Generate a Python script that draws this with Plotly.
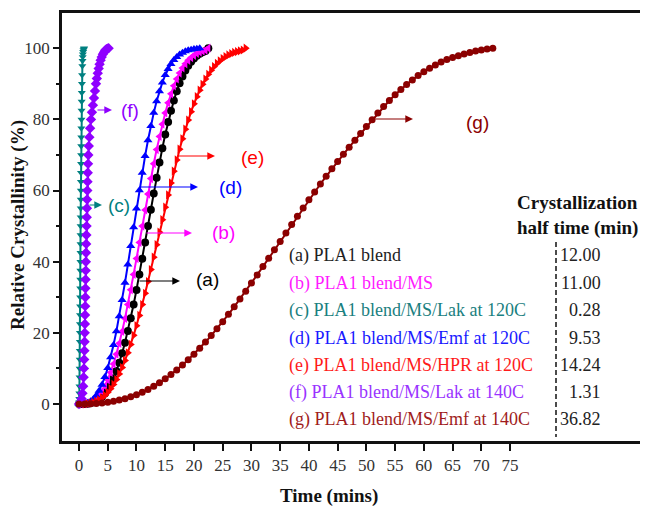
import plotly.graph_objects as go

# ---------------- data ----------------
time_a = [0, 0.5, 1, 1.5, 2, 2.5, 3, 3.5, 4, 4.5, 5, 5.5, 6, 6.5, 7, 7.5, 8, 8.5, 9, 9.5,
          10, 10.5, 11, 11.5, 12, 12.5, 13, 13.5, 14, 14.5, 15, 15.5, 16, 16.5, 17, 17.5,
          18, 18.5, 19, 19.5, 20, 20.5, 21, 21.5, 22, 22.5]
pct_a = [0, 0.0, 0.02, 0.09, 0.22, 0.46, 0.82, 1.33, 2.04, 2.96, 4.12, 5.55, 7.26, 9.28,
         11.62, 14.27, 17.25, 20.54, 24.13, 27.97, 32.07, 36.37, 40.82, 45.38, 50.0, 54.6,
         59.15, 63.59, 67.86, 71.91, 75.72, 79.24, 82.45, 85.34, 87.91, 90.16, 92.08, 93.73,
         95.1, 96.23, 97.14, 97.86, 98.43, 98.87, 99.19, 100]

time_b = [0, 0.5, 1, 1.5, 2, 2.5, 3, 3.5, 4, 4.5, 5, 5.5, 6, 6.5, 7, 7.5, 8, 8.5, 9, 9.5,
          10, 10.5, 11, 11.5, 12, 12.5, 13, 13.5, 14, 14.5, 15, 15.5, 16, 16.5, 17, 17.5,
          18, 18.5, 19, 19.5, 20, 20.5, 21, 21.5, 22, 22.5]
pct_b = [0, 0.01, 0.07, 0.21, 0.49, 0.94, 1.59, 2.47, 3.62, 5.06, 6.80, 8.87, 11.26, 13.99,
         17.04, 20.40, 24.06, 27.97, 32.11, 36.42, 40.88, 45.42, 50.0, 54.54, 59.01, 63.36,
         67.53, 71.50, 75.21, 78.65, 81.80, 84.65, 87.18, 89.42, 91.37, 93.03, 94.45, 95.63,
         96.60, 97.39, 98.02, 98.52, 98.91, 99.21, 99.43, 100]

time_c = [0, 0.024, 0.041, 0.059, 0.076, 0.094, 0.109, 0.123, 0.136, 0.148, 0.159, 0.170,
          0.180, 0.191, 0.201, 0.211, 0.221, 0.231, 0.240, 0.250, 0.260, 0.270, 0.280, 0.290,
          0.301, 0.311, 0.322, 0.333, 0.345, 0.357, 0.369, 0.382, 0.396, 0.411, 0.427, 0.444,
          0.463, 0.485, 0.510, 0.541, 0.582, 0.616, 0.646, 0.679, 0.722, 0.774, 0.839, 0.88]
pct_c = [0, 0.5, 1.5, 3, 5, 7.5, 10, 12.5, 15, 17.5, 20, 22.5, 25, 27.5, 30, 32.5, 35, 37.5,
         40, 42.5, 45, 47.5, 50, 52.5, 55, 57.5, 60, 62.5, 65, 67.5, 70, 72.5, 75, 77.5, 80,
         82.5, 85, 87.5, 90, 92.5, 95, 96.5, 97.5, 98.3, 99, 99.5, 99.8, 100]

time_d = [0, 0.5, 1, 1.5, 2, 2.5, 3, 3.5, 4, 4.5, 5, 5.5, 6, 6.5, 7, 7.5, 8, 8.5, 9, 9.5,
          10, 10.5, 11, 11.5, 12, 12.5, 13, 13.5, 14, 14.5, 15, 15.5, 16, 16.5, 17, 17.5,
          18, 18.5, 19, 19.5, 20, 20.5, 21]
pct_d = [0, 0.01, 0.10, 0.32, 0.75, 1.42, 2.40, 3.72, 5.44, 7.56, 10.12, 13.13, 16.57,
         20.42, 24.66, 29.25, 34.11, 39.19, 44.40, 49.68, 54.93, 60.07, 65.03, 69.73, 74.14,
         78.17, 81.83, 85.09, 87.93, 90.37, 92.45, 94.16, 95.56, 96.68, 97.56, 98.24, 98.75,
         99.13, 99.41, 99.6, 99.75, 99.88, 100]

time_e = [0, 0.5, 1, 1.5, 2, 2.5, 3, 3.5, 4, 4.5, 5, 5.5, 6, 6.5, 7, 7.5, 8, 8.5, 9, 9.5,
          10, 10.5, 11, 11.5, 12, 12.5, 13, 13.5, 14, 14.5, 15, 15.5, 16, 16.5, 17, 17.5,
          18, 18.5, 19, 19.5, 20, 20.5, 21, 21.5, 22, 22.5, 23, 23.5, 24, 24.5, 25, 25.5,
          26, 26.5, 27, 27.5, 28, 28.5, 29]
pct_e = [0, 0.0, 0.03, 0.10, 0.23, 0.45, 0.75, 1.18, 1.73, 2.42, 3.28, 4.30, 5.50, 6.88,
         8.46, 10.23, 12.21, 14.38, 16.74, 19.29, 22.01, 24.90, 27.94, 31.11, 34.41, 37.80,
         41.26, 44.77, 48.30, 51.82, 55.33, 58.77, 62.15, 65.44, 68.60, 71.63, 74.52, 77.24,
         79.79, 82.17, 84.36, 86.38, 88.20, 89.86, 91.34, 92.66, 93.81, 94.83, 95.71, 96.47,
         97.11, 97.66, 98.12, 98.49, 98.81, 99.06, 99.28, 99.5, 100]

time_f = [0, 0.25, 0.45, 0.6, 0.72, 0.8, 0.86, 0.9, 0.94, 0.97, 1.0, 1.03, 1.05, 1.08, 1.1,
          1.12, 1.15, 1.17, 1.19, 1.22, 1.25, 1.28, 1.31, 1.34, 1.37, 1.4, 1.44, 1.48, 1.52,
          1.57, 1.62, 1.7, 1.8, 1.93, 2.08, 2.25, 2.42, 2.6, 2.78, 2.95, 3.1, 3.26, 3.42,
          3.58, 3.76, 3.95, 4.15, 4.35, 4.55, 4.75, 4.95, 5.15]
pct_f = [0, 0.5, 1.5, 3, 5, 7.5, 10, 12.5, 15, 17.5, 20, 22.5, 25, 27.5, 30, 32.5, 35, 37.5,
         40, 42.5, 45, 47.5, 50, 52.5, 55, 57.5, 60, 62.5, 65, 67.5, 70, 72.5, 75, 77.5, 80,
         82, 84, 86, 88, 90, 91.5, 93, 94.3, 95.5, 96.6, 97.5, 98.3, 98.9, 99.4, 99.7, 99.9, 100]

time_g = [0, 1, 2, 3, 4, 5, 6, 7, 8, 9, 10, 11, 12, 13, 14, 15, 16, 17, 18, 19, 20, 21, 22,
          23, 24, 25, 26, 27, 28, 29, 30, 31, 32, 33, 34, 35, 36, 37, 38, 39, 40, 41, 42, 43,
          44, 45, 46, 47, 48, 49, 50, 51, 52, 53, 54, 55, 56, 57, 58, 59, 60, 61, 62, 63, 64,
          65, 66, 67, 68, 69, 70, 71, 72]
pct_g = [0, 0.01, 0.05, 0.13, 0.27, 0.47, 0.74, 1.09, 1.51, 2.03, 2.63, 3.32, 4.11, 5.00,
         5.99, 7.08, 8.27, 9.55, 10.94, 12.42, 13.99, 15.66, 17.41, 19.24, 21.15, 23.15,
         25.20, 27.32, 29.50, 31.72, 33.99, 36.29, 38.62, 40.96, 43.33, 45.69, 48.06, 50.42,
         52.76, 55.08, 57.38, 59.62, 61.84, 63.99, 66.11, 68.17, 70.2, 72.2, 74.1, 76.0, 78.0,
         79.9, 81.8, 83.6, 85.3, 86.9, 88.4, 89.8, 91.1, 92.3, 93.4, 94.4, 95.3, 96.1, 96.8,
         97.4, 97.9, 98.4, 98.8, 99.2, 99.5, 99.8, 100]

curve_tags = ["(a)", "(b)", "(c)", "(d)", "(e)", "(f)", "(g)"]
sample_names = ["(a) PLA1 blend", "(b) PLA1 blend/MS", "(c) PLA1 blend/MS/Lak at 120C",
                "(d) PLA1 blend/MS/Emf at 120C", "(e) PLA1 blend/MS/HPR at 120C",
                "(f) PLA1 blend/MS/Lak at 140C", "(g) PLA1 blend/MS/Emf at 140C"]
half_times = ["12.00", "11.00", "0.28", "9.53", "14.24", "1.31", "36.82"]
x_tick_vals = [0, 5, 10, 15, 20, 25, 30, 35, 40, 45, 50, 55, 60, 65, 70, 75]
y_tick_vals = [0, 20, 40, 60, 80, 100]
y_minor_vals = [10, 30, 50, 70, 90]

# ---------------- layout / style ----------------
# the page body has an 8px margin, so the figure is drawn 8px in from the window corner
OFF = 8
W, H = 648 - OFF, 508 - OFF
ML, MR, MT, MB = 62 - OFF, 0, 13 - OFF, 67
X0, X1 = -2.96, 99.0
Y0, Y1 = -10.4, 109.9
PW, PH = W - ML - MR, H - MT - MB


def dx(px):  # window pixel -> data x
    return X0 + (px - OFF - ML) / PW * (X1 - X0)


def dy(py):  # window pixel -> data y
    return Y0 + (H + OFF - MB - py) / PH * (Y1 - Y0)


def paper_x(px):
    return (px - OFF - ML) / PW


def paper_y(py):
    return (H + OFF - MB - py) / PH


series = [
    (time_a, pct_a, "#000000", "circle", 8),
    (time_b, pct_b, "#ff00ff", "triangle-left", 8),
    (time_c, pct_c, "#008080", "triangle-down", 7),
    (time_d, pct_d, "#0000ff", "triangle-up", 8),
    (time_e, pct_e, "#ff0000", "triangle-right", 8),
    (time_f, pct_f, "#8f00ff", "diamond", 8),
    (time_g, pct_g, "#8b0000", "circle", 7),
]
text_colors = ["#222222", "#ff1aff", "#1a8080", "#1a1aff", "#ff1a1a", "#9933ff", "#a01c1c"]

fig = go.Figure()
for xs, ys, col, sym, sz in series:
    fig.add_trace(go.Scatter(
        x=xs, y=ys, mode="lines+markers",
        line=dict(color=col, width=2),
        marker=dict(symbol=sym, size=sz, color=col, line=dict(width=0)),
        showlegend=False, cliponaxis=False))

# curve labels with arrows: (tail px, tip px, row py, label px, label py)
arrows = [
    (138, 180, 281, 207, 279),
    (145, 192, 233, 223, 232),
    (88, 102, 205, 119, 205),
    (138, 198, 187, 230, 187),
    (177, 215, 156, 252, 157),
    (96, 112, 110, 130, 110),
    (374, 413, 119, 477, 122),
]
annotations = []
for i, (tx, hx, ay_, lx, ly) in enumerate(arrows):
    col = series[i][2]
    annotations.append(dict(
        x=dx(hx), y=dy(ay_), ax=dx(tx), ay=dy(ay_), axref="x", ayref="y",
        xref="x", yref="y", text="", showarrow=True, arrowhead=2, arrowsize=1.4,
        arrowwidth=1.1, arrowcolor=col, standoff=0, startstandoff=0))
    annotations.append(dict(
        x=dx(lx), y=dy(ly), xref="x", yref="y", text=curve_tags[i], showarrow=False,
        xanchor="center", yanchor="middle",
        font=dict(family="Liberation Sans, Arial", size=19, color=series[i][2])))

serif = "Liberation Serif"
row_py = [255, 283, 310, 338, 365, 392, 419]
for i, name in enumerate(sample_names):
    annotations.append(dict(
        x=dx(287), y=dy(row_py[i]), xref="x", yref="y", text=name, showarrow=False,
        xanchor="left", yanchor="middle", font=dict(family=serif, size=18, color=text_colors[i])))
    annotations.append(dict(
        x=dx(603), y=dy(row_py[i]), xref="x", yref="y", text=half_times[i], showarrow=False,
        xanchor="right", yanchor="middle", font=dict(family=serif, size=18, color="#222222")))

annotations.append(dict(x=dx(515), y=dy(202), xref="x", yref="y", text="<b>Crystallization</b>",
                        showarrow=False, xanchor="left", yanchor="middle",
                        font=dict(family=serif, size=19, color="#111111")))
annotations.append(dict(x=dx(515), y=dy(228), xref="x", yref="y", text="<b>half time (min)</b>",
                        showarrow=False, xanchor="left", yanchor="middle",
                        font=dict(family=serif, size=19, color="#111111")))

# axis titles
annotations.append(dict(x=paper_x(329), y=paper_y(496), xref="paper", yref="paper",
                        text="<b>Time (mins)</b>", showarrow=False, xanchor="center",
                        yanchor="middle", font=dict(family=serif, size=19, color="#111111")))
annotations.append(dict(x=paper_x(18), y=paper_y(225), xref="paper", yref="paper",
                        text="<b>Relative Crystallinity (%)</b>", showarrow=False,
                        textangle=-90, xanchor="center", yanchor="middle",
                        font=dict(family=serif, size=19, color="#111111")))

shapes = [dict(type="line", xref="x", yref="y", x0=dx(556), x1=dx(556), y0=dy(242), y1=dy(437),
               line=dict(color="#111111", width=1.5, dash="5px,3px"))]

tickfont = dict(family=serif, size=17, color="#333333")
fig.update_layout(
    width=W, height=H, margin=dict(l=ML, r=MR, t=MT, b=MB),
    paper_bgcolor="white", plot_bgcolor="white",
    annotations=annotations, shapes=shapes,
    xaxis=dict(range=[X0, X1], tickmode="array", tickvals=x_tick_vals, ticks="outside",
               ticklen=7, tickwidth=1.5, tickcolor="#111111", showline=True, linewidth=2.5,
               linecolor="#111111", mirror=True, showgrid=False, zeroline=False,
               tickfont=tickfont),
    yaxis=dict(range=[Y0, Y1], tickmode="array", tickvals=y_tick_vals, ticks="outside",
               ticklen=6, tickwidth=1.5, tickcolor="#111111", showline=True, linewidth=2.5,
               linecolor="#111111", showgrid=False, zeroline=False, tickfont=tickfont,
               minor=dict(tickmode="array", tickvals=y_minor_vals, ticks="outside",
                          ticklen=3, tickwidth=1.5, tickcolor="#111111")),
)

fig.write_html("out.html")
